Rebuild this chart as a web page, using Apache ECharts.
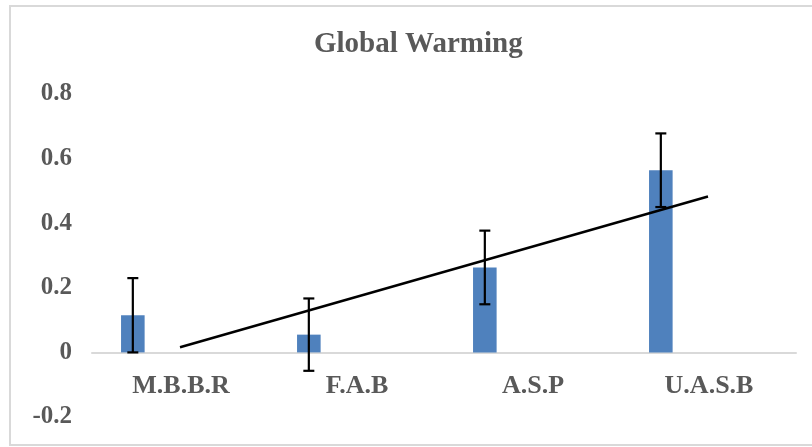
<!DOCTYPE html>
<html>
<head>
<meta charset="utf-8">
<title>Global Warming</title>
<script src="https://cdn.jsdelivr.net/npm/echarts@6/dist/echarts.min.js"></script>
<style>
  html, body { margin: 0; padding: 0; background: #ffffff; }
  #chart { width: 812px; height: 447px; }
</style>
</head>
<body>
<div id="chart"></div>
<script>
// Data
const categories = ['M.B.B.R', 'F.A.B', 'A.S.P', 'U.A.S.B'];
const values = [0.115, 0.055, 0.263, 0.564];
const errors = [0.115, 0.112, 0.114, 0.114];
const yTicks = [-0.2, 0, 0.2, 0.4, 0.6, 0.8];

// Least-squares linear trend over category positions 1..n
function linearTrend(ys) {
  const n = ys.length;
  const xs = ys.map((_, i) => i + 1);
  const mx = xs.reduce((a, b) => a + b, 0) / n;
  const my = ys.reduce((a, b) => a + b, 0) / n;
  let sxy = 0, sxx = 0;
  for (let i = 0; i < n; i++) {
    sxy += (xs[i] - mx) * (ys[i] - my);
    sxx += (xs[i] - mx) * (xs[i] - mx);
  }
  const slope = sxy / sxx;
  const icpt = my - slope * mx;
  return xs.map(x => icpt + slope * x);
}
const trendEnds = (() => {
  const t = linearTrend(values);
  return t.map((v, i) => (i === 0 || i === t.length - 1) ? v : null);
})();

const FONT = '"Liberation Serif", "Times New Roman", serif';
const TEXT = '#595959';
const BAR_FRAC = 0.134;   // bar width as a fraction of the category band
const BAR_GAP = 3.0;      // gap between clustered bars, in bar widths

const chart = echarts.init(document.getElementById('chart'));
chart.setOption({
  animation: false,
  backgroundColor: '#ffffff',
  graphic: [{
    type: 'rect',
    shape: { x: 10, y: 6, width: 820, height: 439 },
    style: { fill: 'none', stroke: '#d9d9d9', lineWidth: 2 },
    silent: true, z: -1
  }],
  title: {
    text: 'Global Warming',
    left: 309,
    top: 25,
    textStyle: { fontFamily: FONT, fontWeight: 'bold', fontSize: 29, color: TEXT }
  },
  grid: { left: 92, right: 16, top: 94, bottom: 30, containLabel: false, outerBoundsMode: 'none' },
  xAxis: {
    type: 'category',
    data: categories,
    axisLine: { onZero: true, lineStyle: { color: '#d9d9d9', width: 2 } },
    axisTick: { show: false },
    axisLabel: { show: false }
  },
  yAxis: {
    type: 'value',
    min: yTicks[0],
    max: yTicks[yTicks.length - 1],
    interval: 0.2,
    axisLine: { show: false },
    axisTick: { show: false },
    splitLine: { show: false },
    axisLabel: {
      margin: 20,
      fontFamily: FONT, fontWeight: 'bold', fontSize: 25, color: TEXT,
      formatter: v => String(Math.round(v * 10) / 10)
    }
  },
  series: [
    {
      type: 'bar',
      data: values,
      barWidth: (BAR_FRAC * 100) + '%',
      barGap: (BAR_GAP * 100) + '%',
      itemStyle: { color: '#4f81bd' },
      z: 2
    },
    {
      type: 'bar',
      data: values.map(() => null),
      barWidth: (BAR_FRAC * 100) + '%'
    },
    {
      // category names, set just under the zero line
      type: 'custom',
      data: categories.map((c, i) => [i, 0]),
      silent: true,
      z: 3,
      renderItem: function (params, api) {
        const p = api.coord([api.value(0), 0]);
        return {
          type: 'text',
          x: p[0] + 1,
          y: p[1] + 21,
          style: {
            text: categories[params.dataIndex],
            fontFamily: FONT, fontWeight: 'bold', fontSize: 26,
            fill: TEXT, align: 'center', verticalAlign: 'top'
          }
        };
      }
    },
    {
      type: 'custom',
      data: values.map((v, i) => [i, v - errors[i], v + errors[i]]),
      z: 4,
      renderItem: function (params, api) {
        const idx = api.value(0);
        const band = api.size([1, 0])[0];
        const shift = -band * BAR_FRAC * (1 + BAR_GAP) / 2;
        const lo = api.coord([idx, api.value(1)]);
        const hi = api.coord([idx, api.value(2)]);
        const x = lo[0] + shift;
        const cap = 5.5;
        const style = { stroke: '#000000', lineWidth: 2.2 };
        return {
          type: 'group',
          children: [
            { type: 'line', shape: { x1: x, y1: lo[1], x2: x, y2: hi[1] }, style },
            { type: 'line', shape: { x1: x - cap, y1: hi[1], x2: x + cap, y2: hi[1] }, style },
            { type: 'line', shape: { x1: x - cap, y1: lo[1], x2: x + cap, y2: lo[1] }, style }
          ]
        };
      }
    },
    {
      type: 'line',
      data: trendEnds,
      connectNulls: true,
      showSymbol: false,
      symbol: 'none',
      lineStyle: { color: '#000000', width: 2.5 },
      z: 5
    }
  ]
});
</script>
</body>
</html>
